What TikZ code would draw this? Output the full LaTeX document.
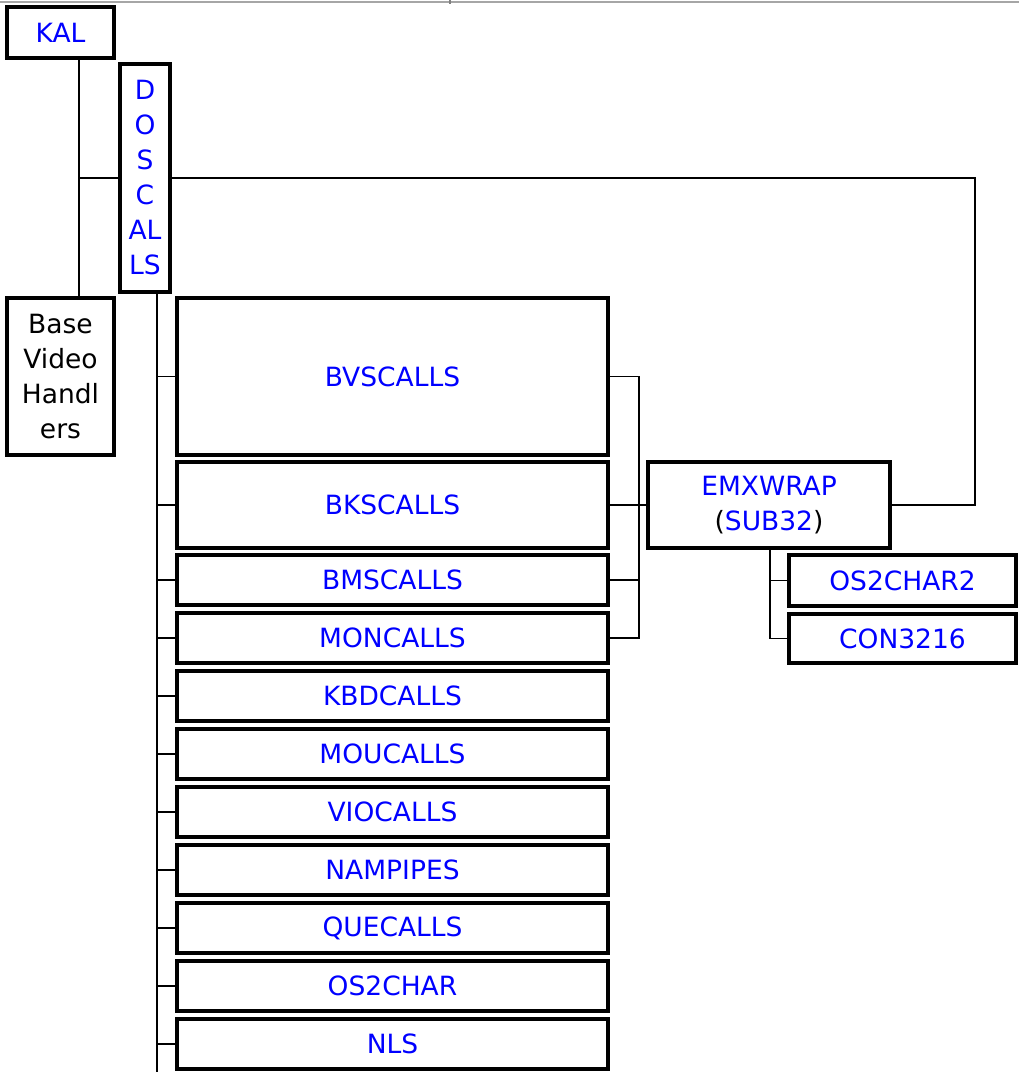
\documentclass[tikz,border=0pt]{standalone}
\usepackage{fontspec}
\setmainfont{DejaVu Sans}
\definecolor{lblue}{RGB}{0,0,255}
\begin{document}
\begin{tikzpicture}[x=1pt,y=-1pt,
  box/.style={draw=black,line width=4pt,inner sep=0pt,align=center,font=\fontsize{26.5}{35}\selectfont},
  bl/.style={text=lblue},
  link/.style={draw=black,line width=1.7pt},
  child/.style={box,bl,minimum width=431pt}]
\useasboundingbox (0,0) rectangle (1019,1072);
% top border line
\draw[gray!70,line width=1.5pt] (0,2) -- (1019,2);
\coordinate (tick) at (450,0);
\draw[gray,line width=2pt] (tick) -- ++(0,4);
% nodes
\node[box,bl,minimum width=107pt,minimum height=51pt] (kal) at (60.5,32.5) {KAL};
\node[box,bl,minimum width=50pt,minimum height=228pt] (dos) at (145,178) {D\\O\\S\\C\\AL\\LS};
\node[box,minimum width=107pt,minimum height=157pt] (base) at (60.5,376.5) {Base\\Video\\Handl\\ers};
\node[child,minimum height=157pt] (bvs) at (392.5,376.5) {BVSCALLS};
\node[child,minimum height=86pt] (bks) at (392.5,505) {BKSCALLS};
\node[child,minimum height=50pt] (bms) at (392.5,580) {BMSCALLS};
\node[child,minimum height=50pt] (mon) at (392.5,638) {MONCALLS};
\node[child,minimum height=50pt] (kbd) at (392.5,696) {KBDCALLS};
\node[child,minimum height=50pt] (mou) at (392.5,754) {MOUCALLS};
\node[child,minimum height=50pt] (vio) at (392.5,812) {VIOCALLS};
\node[child,minimum height=50pt] (nam) at (392.5,870) {NAMPIPES};
\node[child,minimum height=50pt] (que) at (392.5,928) {QUECALLS};
\node[child,minimum height=50pt] (osc) at (392.5,986) {OS2CHAR};
\node[child,minimum height=50pt] (nls) at (392.5,1044) {NLS};
\node[box,minimum width=242pt,minimum height=86pt] (emx) at (769,505) {\textcolor{lblue}{EMXWRAP}\\(\textcolor{lblue}{SUB32})};
\node[box,bl,minimum width=227pt,minimum height=51pt] (os2c) at (902.5,580.5) {OS2CHAR2};
\node[box,bl,minimum width=227pt,minimum height=49pt] (con) at (902.5,638.5) {CON3216};
% connectors
\coordinate (kx) at (79,0);
\draw[link] (kal.south -| kx) -- (base.north -| kx);
\draw[link] (kx |- dos.west) -- (dos.west);
\coordinate (rx) at (975,0);
\draw[link] (dos.east) -- (rx |- dos.east) -- (rx |- emx.east) -- (emx.east);
\coordinate (tx) at (157,1072);
\draw[link] (dos.south -| tx) -- (tx);
\foreach \n in {bvs,bks,bms,mon,kbd,mou,vio,nam,que,osc,nls}
  \draw[link] (tx |- \n.west) -- (\n.west);
\coordinate (ex) at (639,0);
\draw[link] (bvs.east) -- (ex |- bvs.east) -- (ex |- mon.east) -- (mon.east);
\draw[link] (ex |- bms.east) -- (bms.east);
\draw[link] (bks.east) -- (emx.west);
\coordinate (cx) at (770,0);
\draw[link] (emx.south -| cx) -- (cx |- con.west) -- (con.west);
\draw[link] (cx |- os2c.west) -- (os2c.west);
\end{tikzpicture}
\end{document}
